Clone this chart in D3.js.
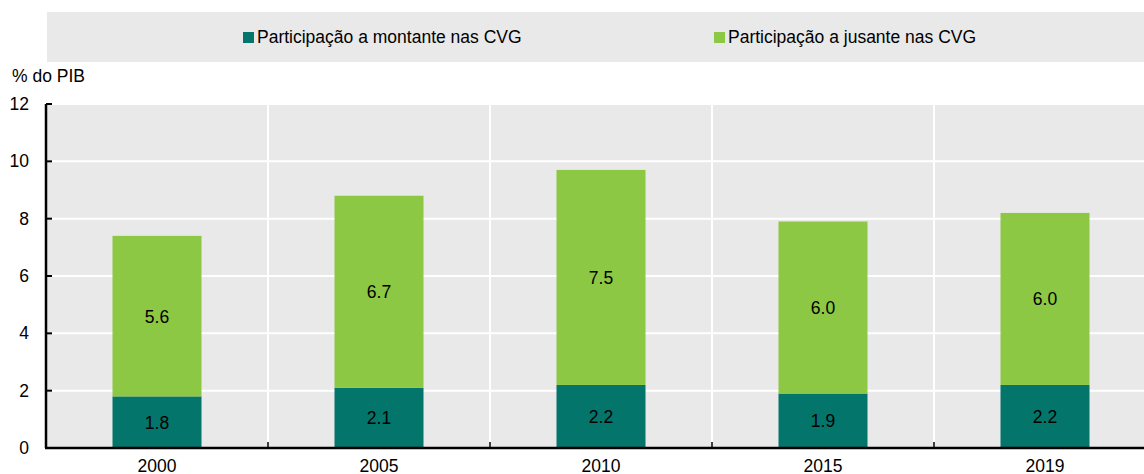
<!DOCTYPE html>
<html lang="pt">
<head>
  <meta charset="utf-8">
  <title>Participação nas CVG</title>
  <script src="https://cdn.jsdelivr.net/npm/d3@7"></script>
  <style>
    body { margin: 0; background: #fff; }
    text { font-family: "Liberation Sans Narrow", "Arial Narrow", "Liberation Sans", sans-serif; fill: #000; }
  </style>
</head>
<body>
  <div id="chart"></div>
  <script>
    var years = ["2000", "2005", "2010", "2015", "2019"];
    var upstream = [1.8, 2.1, 2.2, 1.9, 2.2];
    var downstream = [5.6, 6.7, 7.5, 6.0, 6.0];
    var yTicks = [0, 2, 4, 6, 8, 10, 12];
    var seriesNames = ["Participação a montante nas CVG", "Participação a jusante nas CVG"];
    var colors = ["#04756b", "#8dc844"];

    var w = 1144, h = 474;
    var mLeft = 46, mTop = 104, mBottom = 448;

    var svg = d3.select("#chart").append("svg")
      .attr("width", w).attr("height", h);

    // legend box
    svg.append("rect").attr("x", 47).attr("y", 12).attr("width", w - 47).attr("height", 50)
      .attr("fill", "#e9e9e9");
    var legX = [243, 714];
    seriesNames.forEach(function(name, i) {
      svg.append("rect").attr("x", legX[i]).attr("y", 32).attr("width", 11).attr("height", 11)
        .attr("fill", colors[i]);
      svg.append("text").attr("x", legX[i] + 14).attr("y", 43)
        .attr("font-size", "17.5px").text(name);
    });

    // scales
    var x = d3.scaleBand().domain(years).range([mLeft, mLeft + 222 * years.length]).paddingInner(0).paddingOuter(0);
    var y = d3.scaleLinear().domain([0, 12]).range([mBottom, mTop]);

    var plot = svg.append("g");
    plot.append("rect").attr("x", mLeft).attr("y", mTop).attr("width", w - mLeft).attr("height", mBottom - mTop)
      .attr("fill", "#e9e9e9");

    // gridlines
    plot.selectAll(".hgrid").data(yTicks.slice(1)).enter().append("line")
      .attr("x1", mLeft).attr("x2", w)
      .attr("y1", function(d) { return y(d); }).attr("y2", function(d) { return y(d); })
      .attr("stroke", "#fff").attr("stroke-width", 2);
    plot.selectAll(".vgrid").data(years.slice(1)).enter().append("line")
      .attr("x1", function(d) { return x(d); }).attr("x2", function(d) { return x(d); })
      .attr("y1", mTop).attr("y2", mBottom)
      .attr("stroke", "#fff").attr("stroke-width", 2);

    // bars
    var barW = 89;
    var stacks = d3.stack().keys([0, 1]).value(function(d, k) { return d[k]; })(
      years.map(function(yr, i) { return [upstream[i], downstream[i]]; }));

    stacks.forEach(function(layer, k) {
      plot.selectAll(".bar" + k).data(layer).enter().append("rect")
        .attr("x", function(d, i) { return x(years[i]) + x.bandwidth() / 2 - barW / 2; })
        .attr("y", function(d) { return y(d[1]); })
        .attr("width", barW)
        .attr("height", function(d) { return y(d[0]) - y(d[1]); })
        .attr("fill", colors[k]);
      plot.selectAll(".lab" + k).data(layer).enter().append("text")
        .attr("x", function(d, i) { return x(years[i]) + x.bandwidth() / 2; })
        .attr("y", function(d) { return (y(d[0]) + y(d[1])) / 2 + 6.5; })
        .attr("text-anchor", "middle").attr("font-size", "17.5px")
        .text(function(d) { return (d[1] - d[0]).toFixed(1); });
    });

    // y axis
    svg.append("line").attr("x1", mLeft).attr("x2", mLeft).attr("y1", mTop).attr("y2", mBottom)
      .attr("stroke", "#000").attr("stroke-width", 2.5);
    svg.selectAll(".ytick").data(yTicks).enter().append("line")
      .attr("x1", mLeft).attr("x2", mLeft + 6)
      .attr("y1", function(d) { return y(d); }).attr("y2", function(d) { return y(d); })
      .attr("stroke", "#000").attr("stroke-width", 2);
    svg.selectAll(".ylab").data(yTicks).enter().append("text")
      .attr("x", 29).attr("y", function(d) { return y(d) + 6; })
      .attr("text-anchor", "end").attr("font-size", "17.5px")
      .text(function(d) { return d; });
    svg.append("text").attr("x", 12).attr("y", 82).attr("font-size", "17.5px").text("% do PIB");

    // x axis
    svg.append("line").attr("x1", mLeft - 1).attr("x2", w).attr("y1", mBottom).attr("y2", mBottom)
      .attr("stroke", "#000").attr("stroke-width", 2.5);
    svg.selectAll(".xtick").data(years.slice(1)).enter().append("line")
      .attr("x1", function(d) { return x(d); }).attr("x2", function(d) { return x(d); })
      .attr("y1", mBottom).attr("y2", mBottom - 6)
      .attr("stroke", "#000").attr("stroke-width", 1.5);
    svg.selectAll(".xlab").data(years).enter().append("text")
      .attr("x", function(d) { return x(d) + x.bandwidth() / 2; })
      .attr("y", 472)
      .attr("text-anchor", "middle").attr("font-size", "17.5px")
      .text(function(d) { return d; });
  </script>
</body>
</html>
